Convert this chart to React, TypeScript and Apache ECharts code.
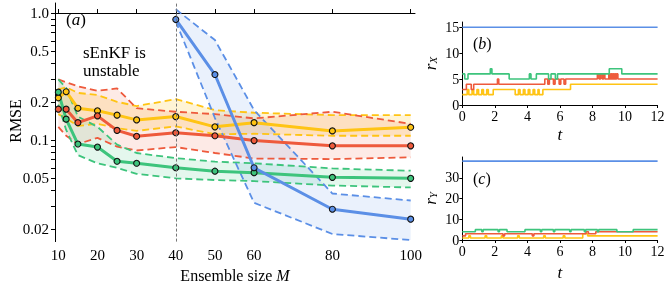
import React, { useEffect, useRef } from "react";
import * as echarts from "echarts";

const FONT = "'Liberation Serif', 'DejaVu Serif', serif";
const YELLOW = "#FFC414";
const RED = "#EE5A3C";
const GREEN = "#3DC47C";
const BLUE = "#5B8FE6";
const YELLOW_FILL = "rgba(255,196,20,0.18)";
const RED_FILL = "rgba(238,90,60,0.13)";
const GREEN_FILL = "rgba(61,196,124,0.14)";
const BLUE_FILL = "rgba(91,143,230,0.13)";

// ---- panel (a): RMSE vs ensemble size ----
const mValues = [10, 12, 15, 20, 25, 30, 40, 50, 60, 80, 100];
const yellowMean = [0.215, 0.24, 0.178, 0.17, 0.157, 0.144, 0.153, 0.127, 0.137, 0.118, 0.126];
const yellowUpper = [0.25, 0.26, 0.235, 0.226, 0.2, 0.185, 0.21, 0.172, 0.164, 0.157, 0.157];
const yellowLower = [0.16, 0.148, 0.129, 0.134, 0.124, 0.118, 0.128, 0.111, 0.112, 0.108, 0.108];
const redMean = [0.175, 0.175, 0.137, 0.155, 0.119, 0.107, 0.114, 0.108, 0.099, 0.09, 0.09];
const redUpper = [0.3, 0.285, 0.265, 0.244, 0.255, 0.178, 0.167, 0.16, 0.148, 0.167, 0.134];
const redLower = [0.127, 0.108, 0.093, 0.104, 0.0886, 0.0827, 0.088, 0.079, 0.0715, 0.0708, 0.073];
const greenMean = [0.238, 0.146, 0.093, 0.088, 0.068, 0.0656, 0.0605, 0.0568, 0.0553, 0.0508, 0.0499];
const greenUpper = [0.3, 0.257, 0.153, 0.127, 0.092, 0.079, 0.072, 0.0675, 0.0656, 0.0597, 0.0573];
const greenLower = [0.19, 0.12, 0.076, 0.0655, 0.0604, 0.0542, 0.0499, 0.0484, 0.0475, 0.0438, 0.0423];
const blueM = [40, 50, 60, 80, 100];
const blueMean = [0.89, 0.328, 0.0605, 0.0285, 0.0238];
const blueUpper = [1.07, 0.613, 0.172, 0.0379, 0.0334];
const blueLower = [0.86, 0.149, 0.032, 0.0182, 0.0163];

const xTicksA = [10, 20, 30, 40, 50, 60, 80, 100];
const yTickValuesA = [0.02, 0.05, 0.1, 0.2, 0.5, 1.0];
const yTickLabelsA = ["0.02", "0.05", "0.1", "0.2", "0.5", "1.0"];
const yMinorTicksA = [0.02, 0.03, 0.04, 0.05, 0.06, 0.07, 0.08, 0.09, 0.1, 0.2, 0.3, 0.4, 0.5, 0.6, 0.7, 0.8, 0.9, 1.0];

// ---- panel (b): r_X over time ----
const blueRX = [[0, 15], [12, 15]];
const greenRX = [[0, 6], [0.15, 5], [0.35, 6], [1.72, 7], [1.82, 6], [2.88, 5], [4.12, 6], [4.22, 5], [4.55, 6], [5.3, 5], [5.45, 6], [5.72, 5], [5.85, 6], [9.03, 7], [9.8, 6], [12, 6]];
const redRX = [[0, 3], [0.25, 4], [0.55, 3], [0.7, 4], [2.16, 5], [2.24, 4], [5.07, 5], [5.25, 4], [5.35, 5], [5.6, 4], [5.7, 5], [5.95, 4], [6.05, 5], [6.25, 4], [6.35, 5], [8.3, 6], [8.4, 5], [8.5, 6], [8.6, 5], [8.68, 6], [8.76, 5], [9.0, 6], [9.06, 5], [9.12, 6], [9.18, 5], [9.24, 6], [9.3, 5], [9.36, 6], [9.42, 5], [9.48, 6], [9.56, 5], [12, 5]];
const yellowRX = [[0, 2], [0.3, 3], [0.4, 2], [0.6, 3], [0.7, 2], [0.9, 3], [1.0, 2], [1.2, 3], [1.3, 2], [1.5, 3], [1.6, 2], [1.9, 3], [3.25, 2], [3.45, 3], [3.55, 2], [3.75, 3], [3.85, 2], [4.05, 3], [4.15, 2], [4.35, 3], [4.45, 2], [4.65, 3], [4.72, 2], [4.95, 3], [6.65, 4], [12, 4]];
const yTicksB = [0, 5, 10, 15];

// ---- panel (c): r_Y over time ----
const blueRY = [[0, 38], [12, 38]];
const greenRY = [[0, 4], [0.8, 5], [1.2, 4], [1.28, 5], [2.2, 4], [2.28, 5], [2.75, 4], [3.85, 5], [4.8, 4], [4.88, 5], [5.6, 4], [5.68, 5], [6.6, 4], [6.68, 5], [7.5, 4], [7.58, 5], [8.3, 4], [8.38, 5], [9.5, 4], [10.5, 5], [12, 5]];
const redRY = [[0, 2], [0.2, 3], [2.5, 2], [2.6, 3], [4.3, 2], [4.4, 3], [7.6, 4], [7.75, 3], [8.2, 4], [12, 4]];
const yellowRY = [[0, 1], [0.4, 2], [0.5, 1], [1.4, 2], [1.5, 1], [2.4, 2], [2.5, 1], [3.4, 2], [3.5, 1], [5.0, 2], [5.1, 1], [6.2, 2], [6.3, 1], [7.4, 3], [7.7, 2], [12, 2]];
const yTicksC = [0, 10, 20, 30];
const tTicks = [0, 2, 4, 6, 8, 10, 12];

const L = (v: number) => Math.log10(v);

function bandSeries(xs: number[], lo: number[], hi: number[], fill: string) {
  return {
    type: "custom",
    xAxisIndex: 0,
    yAxisIndex: 0,
    silent: true,
    clip: true,
    z: 1,
    encode: { x: 0, y: [1, 2] },
    data: xs.map((x, i) => [x, L(lo[i]), L(hi[i])]),
    renderItem: (params: any, api: any) => {
      if (params.dataIndex !== 0) return null;
      const pts: number[][] = [];
      for (let i = 0; i < xs.length; i++) pts.push(api.coord([xs[i], L(hi[i])]));
      for (let i = xs.length - 1; i >= 0; i--) pts.push(api.coord([xs[i], L(lo[i])]));
      return { type: "polygon", shape: { points: pts }, style: { fill, stroke: "none" } };
    },
  };
}

function dashedSeries(xs: number[], vals: number[], color: string) {
  return {
    type: "line",
    xAxisIndex: 0,
    yAxisIndex: 0,
    z: 2,
    symbol: "none",
    silent: true,
    lineStyle: { color, width: 1.8, type: [7, 4] },
    data: xs.map((x, i) => [x, L(vals[i])]),
  };
}

function meanSeries(xs: number[], vals: number[], color: string, extra: any = {}) {
  return {
    type: "line",
    xAxisIndex: 0,
    yAxisIndex: 0,
    z: 3,
    symbol: "circle",
    symbolSize: 6,
    silent: true,
    lineStyle: { color, width: 3 },
    itemStyle: { color, borderColor: "#111", borderWidth: 1.1 },
    data: xs.map((x, i) => [x, L(vals[i])]),
    ...extra,
  };
}

function stepSeries(data: number[][], color: string, idx: number) {
  return {
    type: "line",
    xAxisIndex: idx,
    yAxisIndex: idx,
    step: "end",
    symbol: "none",
    silent: true,
    lineStyle: { color, width: 1.6 },
    data,
  };
}

const tickLabel = { color: "#000", fontFamily: FONT, fontSize: 14 };

function findLabel(v: number) {
  let best = 0;
  for (let i = 0; i < yTickValuesA.length; i++) {
    if (Math.abs(L(yTickValuesA[i]) - v) < Math.abs(L(yTickValuesA[best]) - v)) best = i;
  }
  return yTickLabelsA[best];
}

export default function App() {
  const ref = useRef<HTMLDivElement>(null);
  useEffect(() => {
    if (!ref.current) return;
    const chart = echarts.init(ref.current, null, { renderer: "svg" });
    const axisLine = { show: true, lineStyle: { color: "#000", width: 1 } };
    const groups = [
      { xs: mValues, mean: yellowMean, up: yellowUpper, lo: yellowLower, color: YELLOW, fill: YELLOW_FILL },
      { xs: mValues, mean: redMean, up: redUpper, lo: redLower, color: RED, fill: RED_FILL },
      { xs: mValues, mean: greenMean, up: greenUpper, lo: greenLower, color: GREEN, fill: GREEN_FILL },
      { xs: blueM, mean: blueMean, up: blueUpper, lo: blueLower, color: BLUE, fill: BLUE_FILL },
    ];
    const series: any[] = [];
    groups.forEach((g) => series.push(bandSeries(g.xs, g.lo, g.up, g.fill)));
    groups.forEach((g) => {
      series.push(dashedSeries(g.xs, g.up, g.color));
      series.push(dashedSeries(g.xs, g.lo, g.color));
    });
    groups.forEach((g, i) =>
      series.push(
        meanSeries(
          g.xs,
          g.mean,
          g.color,
          i === 0
            ? {
                markLine: {
                  silent: true,
                  symbol: "none",
                  label: { show: false },
                  lineStyle: { color: "#777", type: [3, 2], width: 1 },
                  data: [{ xAxis: 40 }],
                },
              }
            : {}
        )
      )
    );
    series.push(stepSeries(yellowRX, YELLOW, 1));
    series.push(stepSeries(redRX, RED, 1));
    series.push(stepSeries(greenRX, GREEN, 1));
    series.push(stepSeries(blueRX, BLUE, 1));
    series.push(stepSeries(yellowRY, YELLOW, 2));
    series.push(stepSeries(redRY, RED, 2));
    series.push(stepSeries(greenRY, GREEN, 2));
    series.push(stepSeries(blueRY, BLUE, 2));

    const tAxis = (gi: number, gap: number) => ({
      type: "value",
      gridIndex: gi,
      min: 0,
      max: 12,
      interval: 2,
      axisLine,
      axisTick: { show: true, inside: false, length: 3, lineStyle: { color: "#000" } },
      axisLabel: { ...tickLabel, margin: 4, customValues: tTicks },
      splitLine: { show: false },
      name: "t",
      nameLocation: "middle",
      nameGap: gap,
      nameTextStyle: { color: "#000", fontFamily: FONT, fontSize: 17, fontStyle: "italic" },
    });

    const rName = (sub: string) => ({
      name: `{r|r}{s|${sub}}`,
      nameLocation: "middle",
      nameGap: 19,
      nameRotate: 90,
      nameTextStyle: {
        color: "#000",
        fontFamily: FONT,
        rich: {
          r: { fontFamily: FONT, fontSize: 17, fontStyle: "italic", color: "#000", padding: [0, 0, 4, 0] },
          s: { fontFamily: FONT, fontSize: 11, fontStyle: "italic", color: "#000" },
        },
      },
    });

    const panelLabel = (letter: string, left: number, top: number, size: number) => ({
      type: "text",
      left,
      top,
      silent: true,
      style: {
        text: `{u|(}{i|${letter}}{u|)}`,
        rich: {
          u: { fontFamily: FONT, fontSize: size, fill: "#000" },
          i: { fontFamily: FONT, fontSize: size, fill: "#000", fontStyle: "italic" },
        },
      },
    });

    chart.setOption({
      animation: false,
      grid: [
        { left: 55, top: 3, width: 360, height: 238.6, outerBoundsMode: "none", containLabel: false },
        { left: 462.3, top: 22, width: 195.3, height: 83, outerBoundsMode: "none", containLabel: false },
        { left: 462.3, top: 157, width: 195.3, height: 83, outerBoundsMode: "none", containLabel: false },
      ],
      xAxis: [
        {
          type: "value",
          gridIndex: 0,
          min: 9.15,
          max: 101.1,
          axisLine,
          axisTick: { show: true, inside: true, length: 4, customValues: xTicksA, lineStyle: { color: "#000" } },
          axisLabel: { ...tickLabel, fontSize: 15, margin: 6, customValues: xTicksA },
          splitLine: { show: false },
          name: "{n|Ensemble size }{i|M}",
          nameLocation: "middle",
          nameGap: 21,
          nameTextStyle: {
            rich: {
              n: { fontFamily: FONT, fontSize: 16, color: "#000" },
              i: { fontFamily: FONT, fontSize: 16, color: "#000", fontStyle: "italic" },
            },
          },
        },
        tAxis(1, 21),
        tAxis(2, 24),
      ],
      yAxis: [
        {
          type: "value",
          gridIndex: 0,
          min: -1.8,
          max: 0.079,
          axisLine,
          axisTick: { show: true, inside: false, length: 4, customValues: yMinorTicksA.map(L), lineStyle: { color: "#000" } },
          axisLabel: { ...tickLabel, fontSize: 15, margin: 6, customValues: yTickValuesA.map(L), formatter: (v: number) => findLabel(v) },
          splitLine: { show: false },
        },
        {
          type: "value",
          gridIndex: 1,
          min: 0,
          max: 16,
          axisLine,
          axisTick: { show: true, inside: false, length: 3, customValues: yTicksB, lineStyle: { color: "#000" } },
          axisLabel: { ...tickLabel, margin: 3, customValues: yTicksB },
          splitLine: { show: false },
          ...rName("X"),
        },
        {
          type: "value",
          gridIndex: 2,
          min: 0,
          max: 40,
          axisLine,
          axisTick: { show: true, inside: false, length: 3, customValues: yTicksC, lineStyle: { color: "#000" } },
          axisLabel: { ...tickLabel, margin: 3, customValues: yTicksC },
          splitLine: { show: false },
          ...rName("Y"),
        },
      ],
      graphic: [
        {
          type: "text",
          x: 15,
          y: 121,
          rotation: Math.PI / 2,
          silent: true,
          style: {
            text: "RMSE",
            fontFamily: FONT,
            fontSize: 16,
            fill: "#000",
            align: "center",
            verticalAlign: "middle",
          },
        },
        panelLabel("a", 66, 11, 17),
        {
          type: "text",
          left: 83,
          top: 43,
          silent: true,
          style: { text: "sEnKF is\nunstable", fontFamily: FONT, fontSize: 17, lineHeight: 18, fill: "#000" },
        },
        panelLabel("b", 473, 35, 16),
        panelLabel("c", 473, 170, 16),
      ],
      series,
    });
    return () => chart.dispose();
  }, []);
  return <div ref={ref} style={{ position: "fixed", left: 0, top: 0, width: 665, height: 283 }} />;
}
